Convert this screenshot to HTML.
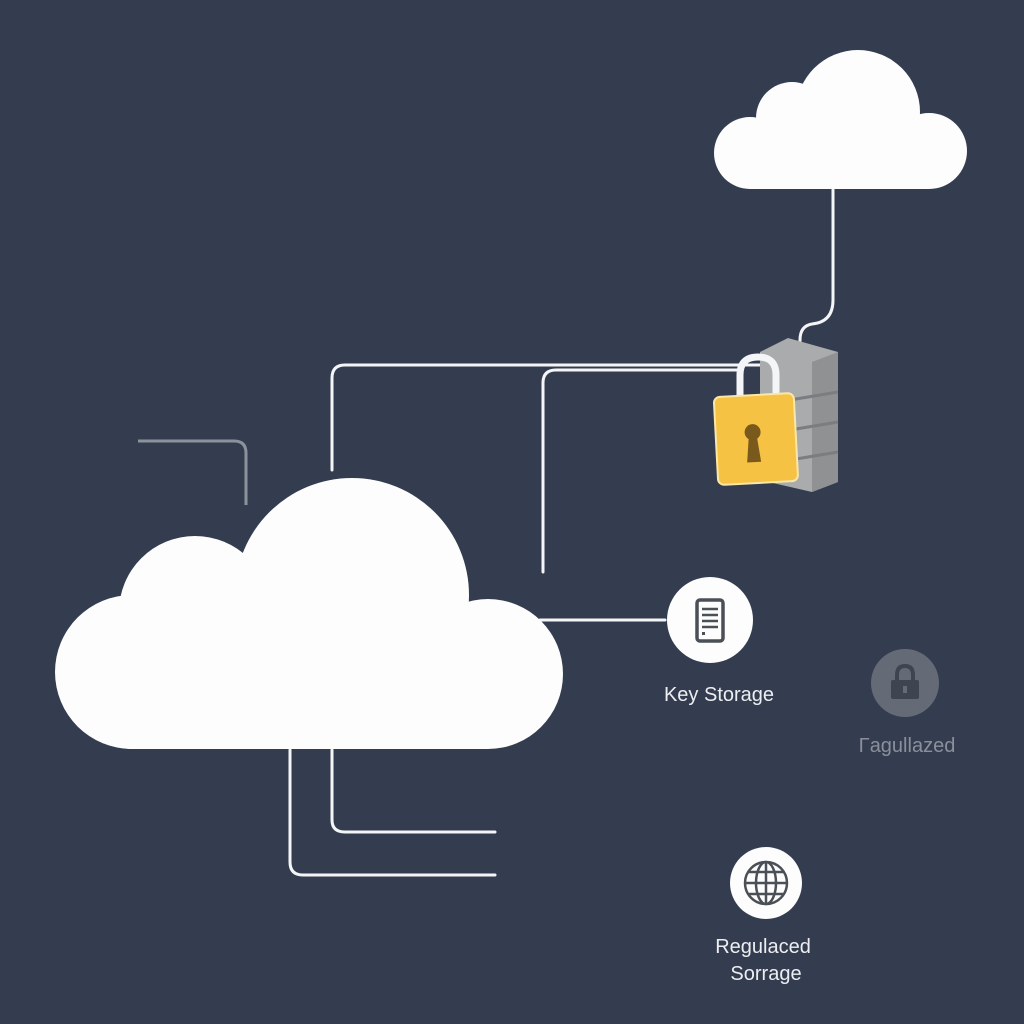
<!DOCTYPE html>
<html><head><meta charset="utf-8"><style>
html,body{margin:0;padding:0;background:#343d4f;}
svg{display:block}
text{font-family:"Liberation Sans",sans-serif;}
</style></head><body>
<svg width="1024" height="1024" viewBox="0 0 1024 1024" xmlns="http://www.w3.org/2000/svg">
<rect width="1024" height="1024" fill="#343d4f"/>
<g fill="none" stroke="#f4f5f7" stroke-width="3" stroke-linecap="round">
<path d="M833 188 V300 Q833 322 812 324 Q800 326 800 340 V350"/>
<path d="M332 470 V378 Q332 365 345 365 H760"/>
<path d="M543 572 V383 Q543 370 556 370 H740"/>
<path d="M540 620 H665"/>
<path d="M290 750 V862 Q290 875 303 875 H495"/>
<path d="M332 750 V820 Q332 832 345 832 H495"/>
</g>
<path d="M138 441 H234 Q246 441 246 453 V505" fill="none" stroke="#8c929c" stroke-width="3"/>
<!-- top right cloud -->
<g fill="#fdfdfd">
<circle cx="858" cy="112" r="62"/>
<circle cx="792" cy="118" r="36"/>
<circle cx="750" cy="153" r="36"/>
<circle cx="929" cy="151" r="38"/>
<rect x="750" y="125" width="180" height="64"/>
</g>
<!-- big cloud -->
<g fill="#fdfdfd">
<circle cx="352" cy="595" r="117"/>
<circle cx="195" cy="612" r="76"/>
<circle cx="132" cy="672" r="77"/>
<circle cx="488" cy="674" r="75"/>
<rect x="132" y="610" width="356" height="139"/>
</g>
<!-- server -->
<g>
<path d="M760 352 L788 338 L838 352 L838 482 L812 492 L760 480 Z" fill="#a9abad"/>
<path d="M812 362 L838 352 L838 482 L812 492 Z" fill="#8f9193"/>
<g stroke="#7b7d80" stroke-width="3">
<line x1="790" y1="400" x2="838" y2="392"/>
<line x1="790" y1="430" x2="838" y2="422"/>
<line x1="790" y1="460" x2="838" y2="452"/>
</g>
</g>
<!-- lock -->
<path d="M740 400 V375 Q740 357 758 357 Q776 357 776 375 V400" fill="none" stroke="#f4f5f7" stroke-width="7"/>
<g transform="rotate(-3 756 440)">
<rect x="716" y="395" width="80" height="88" rx="6" fill="#f6c244" stroke="#fbe7a8" stroke-width="2"/>
<circle cx="753" cy="432" r="8" fill="#7a5a1c"/>
<path d="M749 436 L746 462 H760 L757 436 Z" fill="#7a5a1c"/>
</g>
<!-- key storage -->
<circle cx="710" cy="620" r="43" fill="#fdfdfd"/>
<rect x="697" y="600" width="26" height="41" rx="3" fill="none" stroke="#4b4f56" stroke-width="3.5"/>
<g stroke="#4b4f56" stroke-width="2.5"><line x1="702" y1="609" x2="718" y2="609"/><line x1="702" y1="615" x2="718" y2="615"/><line x1="702" y1="621" x2="718" y2="621"/><line x1="702" y1="627" x2="718" y2="627"/></g>
<rect x="702" y="632" width="3" height="3" fill="#4b4f56"/>
<text x="719" y="701" font-size="20" fill="#eceef1" text-anchor="middle">Key Storage</text>
<!-- regulalized -->
<circle cx="905" cy="683" r="34" fill="#646b77"/>
<path d="M897 684 V675 Q897 666 905 666 Q913 666 913 675 V684" fill="none" stroke="#3f4550" stroke-width="4"/>
<rect x="891" y="680" width="28" height="19" rx="2" fill="#3f4550"/>
<rect x="903" y="686" width="4" height="7" fill="#646b77"/>
<text x="907" y="752" font-size="20" fill="#8a909b" text-anchor="middle">Γagullazed</text>
<!-- globe -->
<circle cx="766" cy="883" r="36" fill="#fdfdfd"/>
<g fill="none" stroke="#4b4f56" stroke-width="2.5">
<circle cx="766" cy="883" r="21"/>
<ellipse cx="766" cy="883" rx="10" ry="21"/>
<line x1="766" y1="862" x2="766" y2="904"/>
<line x1="745" y1="883" x2="787" y2="883"/>
<line x1="749" y1="872" x2="783" y2="872"/>
<line x1="749" y1="894" x2="783" y2="894"/>
</g>
<text x="763" y="953" font-size="20" fill="#eceef1" text-anchor="middle">Regulaced</text>
<text x="766" y="980" font-size="20" fill="#eceef1" text-anchor="middle">Sorrage</text>
</svg>
</body></html>
